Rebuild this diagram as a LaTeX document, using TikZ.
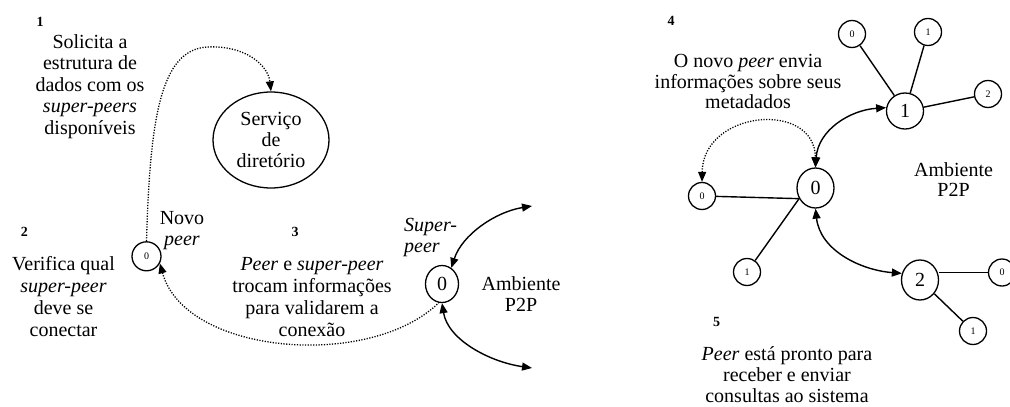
\documentclass[tikz,border=0pt]{standalone}
\usepackage{fontspec}
\setmainfont{Liberation Serif}
\usetikzlibrary{arrows.meta,shapes.geometric}

\begin{document}
\begin{tikzpicture}[x=1pt,y=-1pt,
  txt/.style={inner sep=0pt, align=center, anchor=base, font=\fontsize{20}{21.5}\selectfont},
  num/.style={inner sep=0pt, anchor=base, font=\fontsize{14}{14}\selectfont\bfseries},
  big/.style={ellipse, draw, line width=1.3pt, inner sep=0pt, minimum width=37pt, minimum height=40pt, font=\fontsize{20}{20}\selectfont},
  small/.style={circle, draw, line width=1.3pt, inner sep=0pt, minimum size=27pt, font=\fontsize{10}{10}\selectfont},
  link/.style={line width=1.4pt},
  dots/.style={line width=1.3pt, dash pattern=on 1.2pt off 1.5pt},
  head/.tip={Triangle[length=10pt,width=8pt]}
]
\useasboundingbox (0,0) rectangle (1010,407);

% ---------- left part: joining the network ----------
% (text nodes are placed by the baseline of their last line)
\node[ellipse, draw, line width=1.3pt, inner sep=0pt, minimum width=116pt, minimum height=96pt,
      align=center, font=\fontsize{20}{21}\selectfont] (dir) at (271,140) {Serviço\\de\\diretório};
\node[small, minimum size=29pt] (nv) at (146.5,256.3) {0};
\node[big, minimum width=33pt, minimum height=37pt] (sp) at (442,284) {0};
\coordinate (spup) at (532,206);
\coordinate (spdown) at (532,368);

\node[num] (l1) at (40,26) {1};
\node[txt] (t1) at (90,134) {Solicita a\\estrutura de\\dados com os\\\textit{super-peers}\\disponíveis};
\node[num] (l2) at (24.3,236.7) {2};
\node[txt, font=\fontsize{20}{22}\selectfont] (t2) at (63.5,336.7) {Verifica qual\\\textit{super-peer}\\deve se\\conectar};
\node[num] (l3) at (295,236.7) {3};
\node[txt, font=\fontsize{20}{22}\selectfont] (t3) at (312,336.7) {\textit{Peer} e \textit{super-peer}\\trocam informações\\para validarem a\\conexão};
\node[txt, font=\fontsize{20}{21}\selectfont] (tnv) at (182,245) {Novo\\\textit{peer}};
\node[txt, anchor=base west, align=left, font=\fontsize{20}{21}\selectfont] (tsp) at (404,252.7) {\textit{Super-}\\\textit{peer}};
\node[txt, font=\fontsize{20}{21}\selectfont] (amb1) at (521,311) {Ambiente\\P2P};

\draw[dots, -head] (nv.north) .. controls (150,120) and (160,50) .. (207,47)
      .. controls (245,45) and (268,65) .. (dir.north);
\draw[dots, head-] (nv.-28) .. controls (185,355) and (370,370) .. (sp.-100);
\draw[link, head-head] (sp.60) .. controls (462,235) and (495,212) .. (spup);
\draw[link, head-head] (sp.-90) .. controls (448,340) and (490,362) .. (spdown);

% ---------- right part: peer inside the network ----------
\node[big] (n0) at (815.5,188) {0};
\node[big, minimum height=36pt] (n1) at (905,111) {1};
\node[big] (n2) at (920,280) {2};
\node[small] (a0) at (852,34) {0};
\node[small] (a1) at (928,32) {1};
\node[small] (a2) at (988,94) {2};
\node[small] (c0) at (702,196) {0};
\node[small] (c1) at (747,272) {1};
\node[small] (b0) at (1002,272.5) {0};
\node[small] (b1) at (973,331) {1};

\draw[link] (c0) -- (n0.213);
\draw[link] (c1) -- (n0.213);
\draw[link] (n1) -- (a0);
\draw[link] (n1) -- (a1);
\draw[link] (n1) -- (a2);
\draw[link] (n2.east |- b0.west) -- (b0.west);
\draw[link] (n2) -- (b1);

\draw[dots, head-head] (c0.north) .. controls (703,110) and (815,100) .. (n0.north);
\draw[link, head-head] (n0.north) .. controls (818,130) and (850,110) .. (n1.170);
\draw[link, head-head] (n0.south) .. controls (820,250) and (860,270) .. (n2.160);

\node[num] (l4) at (671,25) {4};
\node[txt, font=\fontsize{20}{20.3}\selectfont] (t4) at (748,108.3) {O novo \textit{peer} envia\\informações sobre seus\\metadados};
\node[txt, font=\fontsize{20}{20}\selectfont] (amb2) at (953.5,196.7) {Ambiente\\P2P};
\node[num] (l5) at (716.7,326) {5};
\node[txt, font=\fontsize{20}{21}\selectfont] (t5) at (787,402) {\textit{Peer} está pronto para\\receber e enviar\\consultas ao sistema};
\end{tikzpicture}
\end{document}
